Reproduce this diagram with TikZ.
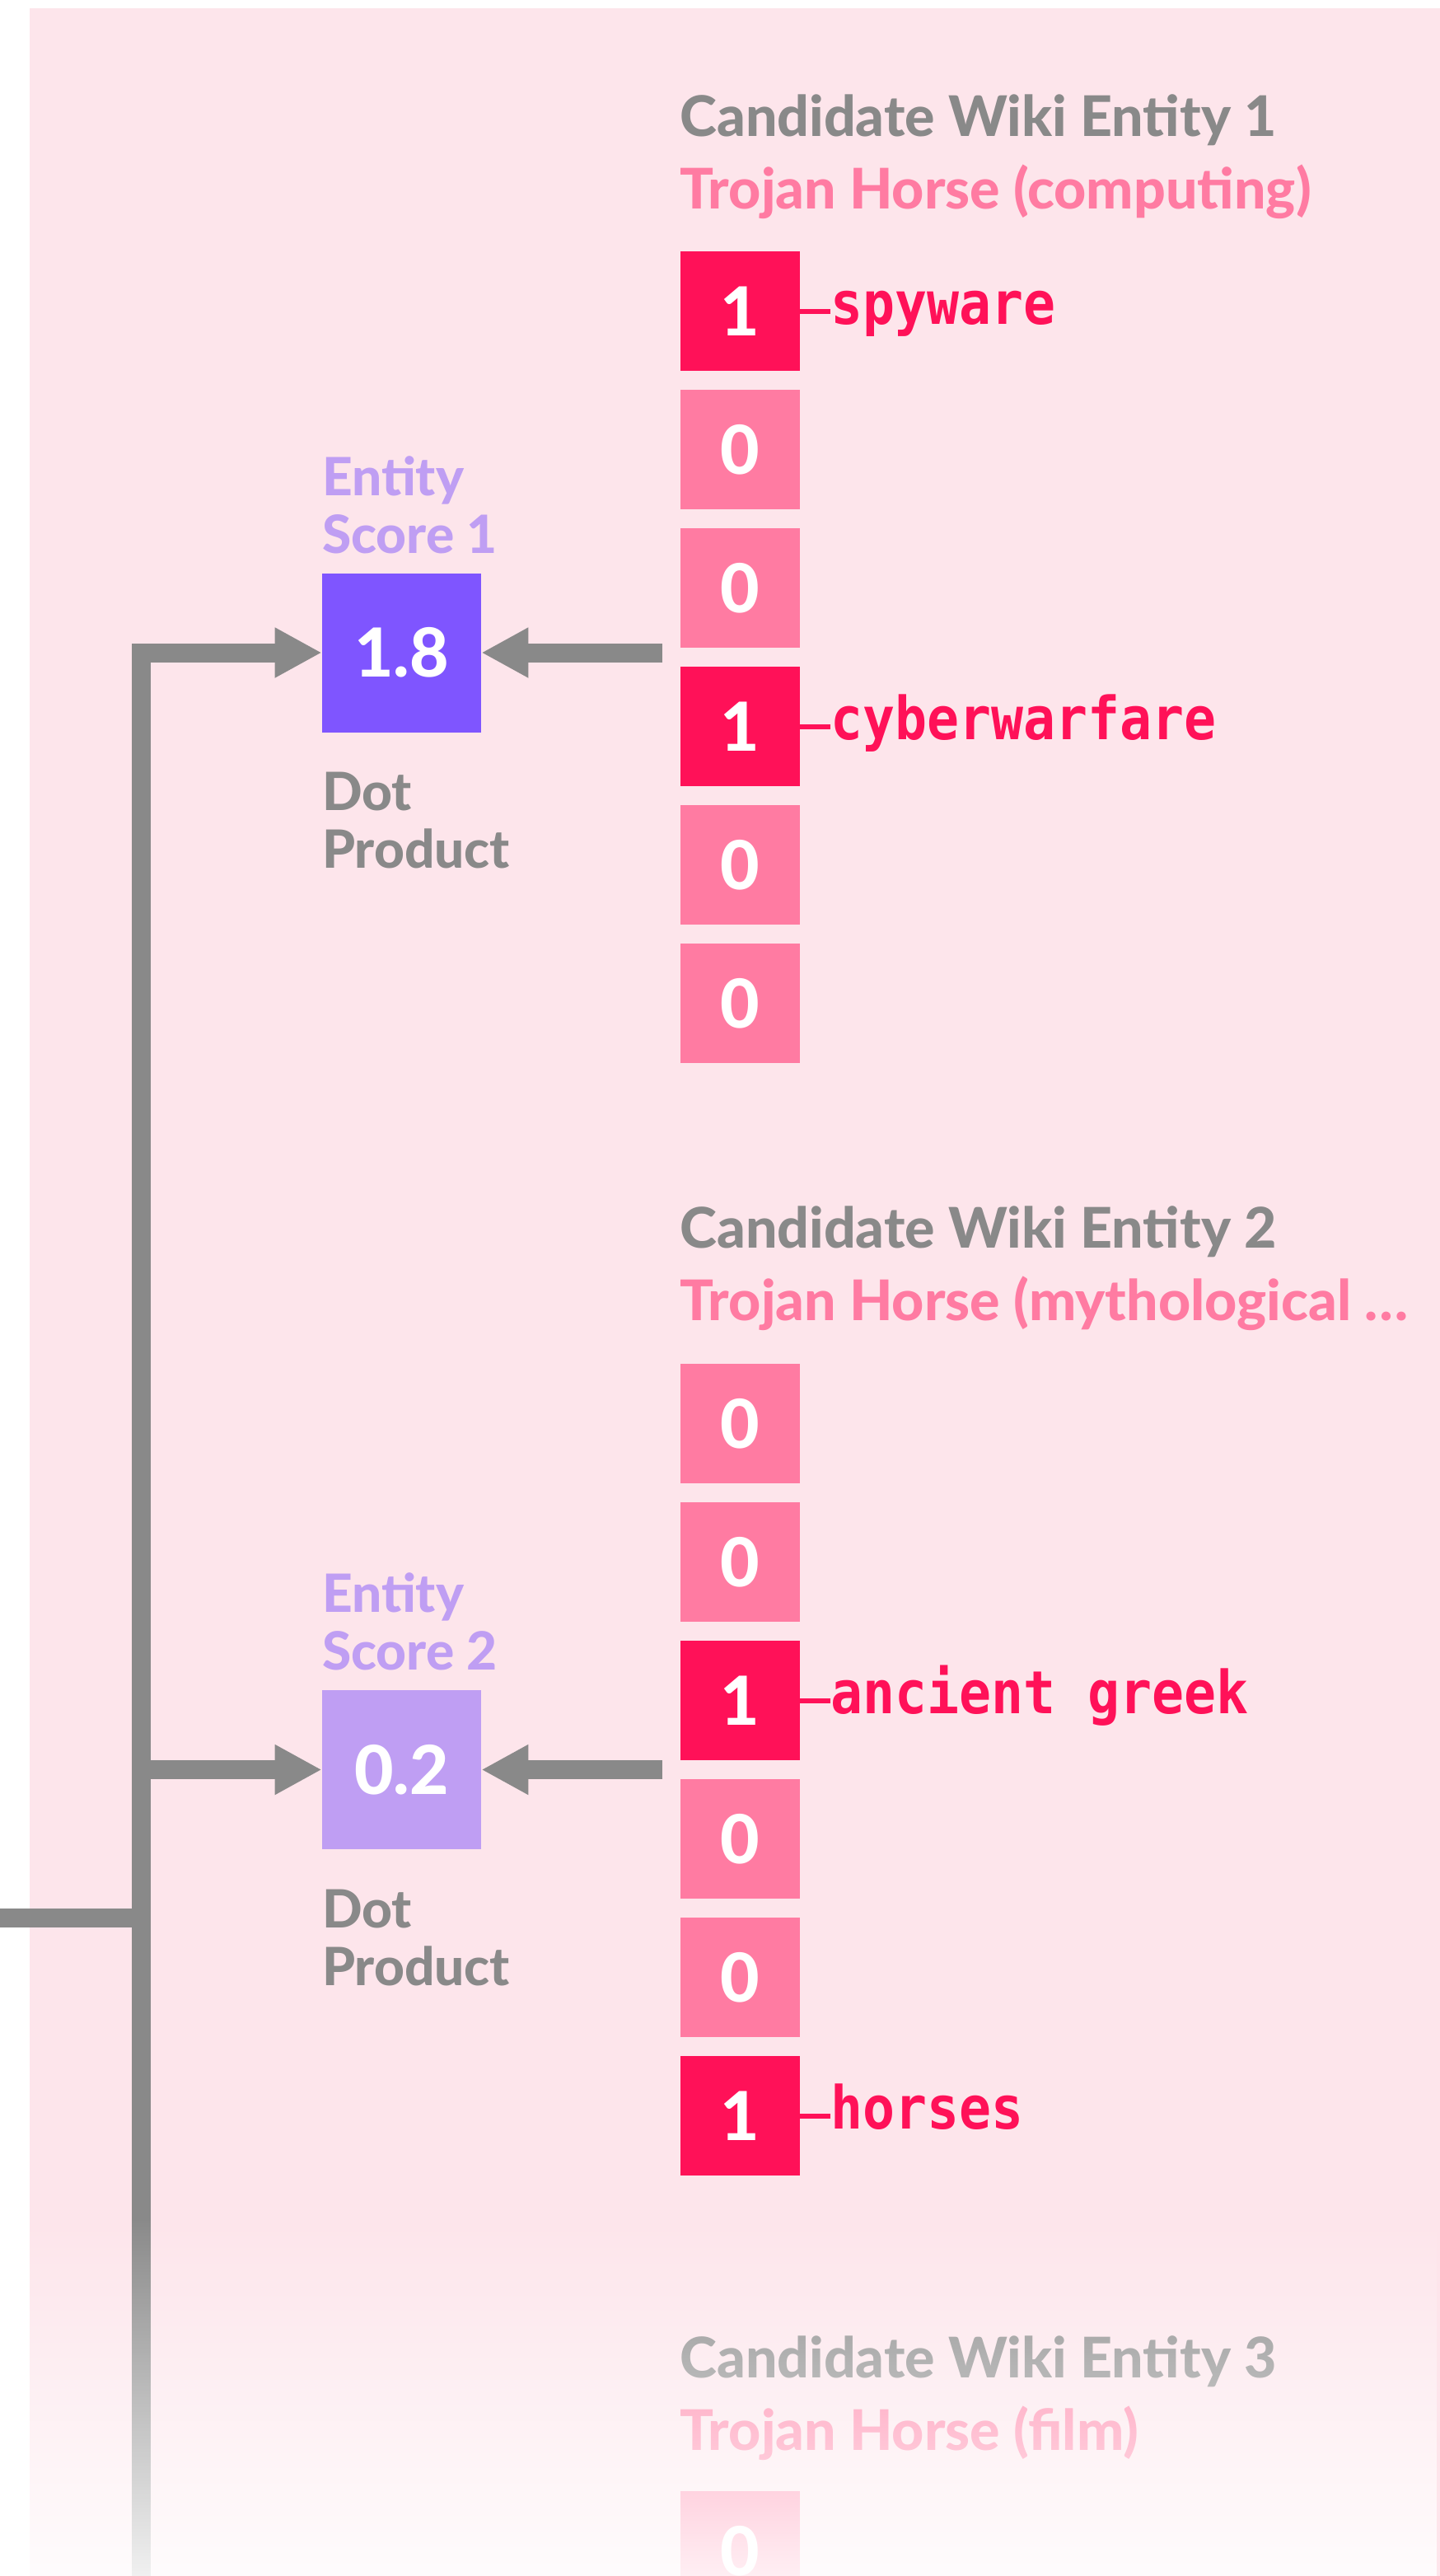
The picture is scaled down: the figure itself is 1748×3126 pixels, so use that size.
\documentclass[tikz,border=0pt]{standalone}
\usepackage{fontspec}
\setmainfont{Lato}[BoldFont={Lato Heavy}]
\newfontfamily\monofont{DejaVu Sans Mono}[FakeStretch=0.9]
\usetikzlibrary{positioning,arrows.meta,fadings}

\definecolor{bgpink}{HTML}{FDE5EB}
\definecolor{railgray}{HTML}{898989}
\definecolor{hotpink}{HTML}{FF1158}
\definecolor{softpink}{HTML}{FF7BA2}
\definecolor{deeppurple}{HTML}{7F55FF}
\definecolor{lilac}{HTML}{BF9EF3}

\tikzfading[name=fadeout, top color=transparent!100, bottom color=transparent!12]

\tikzset{
  pipe/.style={draw=railgray, line width=11.5pt},
  tip/.style={-{Triangle[length=28.5pt,width=28.5pt]}},
  cell/.style={minimum size=72.5pt, inner sep=0pt, text=white,
    font=\bfseries\fontsize{41}{41}\selectfont},
  score/.style={minimum size=96.5pt, inner sep=0pt, text=white,
    font=\bfseries\fontsize{41}{41}\selectfont},
  title/.style={anchor=base west, inner sep=0pt, text=railgray,
    font=\bfseries\fontsize{34}{36}\selectfont},
  sub/.style={title, text=softpink},
  lbl/.style={inner sep=0pt, align=left,
    font=\bfseries\fontsize{32}{35}\selectfont},
  tag/.style={inner sep=0pt, anchor=base west, text=hotpink,
    font=\monofont\bfseries\fontsize{36}{36}\selectfont},
  tick/.style={draw=hotpink, line width=3pt}
}

\begin{document}
\begin{tikzpicture}[x=0.5pt, y=-0.5pt]
  \useasboundingbox (0,0) rectangle (1748,3126);
  \clip (0,0) rectangle (1748,3126);
  \fill[bgpink] (36,10) rectangle (1748,3126);

  % candidate 1
  \node[title] (t1) at (825,165) {Candidate Wiki Entity 1};
  \node[sub] (h1) at ([yshift=-44pt]t1.base west) {Trojan Horse (computing)};
  \foreach \v/\col [count=\i] in {1/hotpink,0/softpink,0/softpink,1/hotpink,0/softpink,0/softpink}
    \node[cell, fill=\col] (a\i) at (898.5,209.5+168*\i) {\v};
  \node[tag] (spy) at ([xshift=18.5pt, yshift=-8pt]a1.east) {spyware};
  \node[tag] (cyber) at ([xshift=18.5pt, yshift=-8pt]a4.east) {cyberwarfare};
  \draw[tick] (a1.east) -- (spy.west |- a1.east);
  \draw[tick] (a4.east) -- (cyber.west |- a4.east);

  % candidate 2
  \node[title] (t2) at (825,1514) {Candidate Wiki Entity 2};
  \node[sub] (h2) at ([yshift=-44pt]t2.base west) {Trojan Horse (mythological …};
  \foreach \v/\col [count=\i] in {0/softpink,0/softpink,1/hotpink,0/softpink,0/softpink,1/hotpink}
    \node[cell, fill=\col] (b\i) at (898.5,1559.5+168*\i) {\v};
  \node[tag] (greek) at ([xshift=18.5pt, yshift=-8pt]b3.east) {ancient greek};
  \node[tag] (horse) at ([xshift=18.5pt, yshift=-8pt]b6.east) {horses};
  \draw[tick] (b3.east) -- (greek.west |- b3.east);
  \draw[tick] (b6.east) -- (horse.west |- b6.east);

  % candidate 3
  \node[title] (t3) at (825,2885) {Candidate Wiki Entity 3};
  \node[sub] (h3) at ([yshift=-44pt]t3.base west) {Trojan Horse (film)};
  \node[cell, fill=softpink] (c1) at (898.5,3095.5) {0};

  % scores
  \node[score, fill=deeppurple] (s1) at (487.5,792) {1.8};
  \node[score, fill=lilac] (s2) at (487.5,2147.5) {0.2};
  \node[lbl, text=lilac, anchor=south west] (e1) at ([yshift=11.5pt]s1.north west) {Entity\\Score 1};
  \node[lbl, text=lilac, anchor=south west] (e2) at ([yshift=11.5pt]s2.north west) {Entity\\Score 2};
  \node[lbl, text=railgray, anchor=north west] (d1) at ([yshift=-24pt]s1.south west) {Dot\\Product};
  \node[lbl, text=railgray, anchor=north west] (d2) at ([yshift=-24pt]s2.south west) {Dot\\Product};

  % arrows
  \coordinate (v1) at (804,792);
  \coordinate (v2) at (804,2147.5);
  \coordinate (rail) at (171,3126);
  \coordinate (feed) at (0,2327);
  \draw[pipe, tip] (v1) -- (s1.east);
  \draw[pipe, tip] (v2) -- (s2.east);
  \draw[pipe, tip] (rail) |- (s1.west);
  \draw[pipe, tip] (rail |- s2.west) -- (s2.west);
  \draw[pipe] (feed) -- (feed -| rail);

  % fade at the bottom
  \fill[white, path fading=fadeout] (0,2690) rectangle (1748,3126);
\end{tikzpicture}
\end{document}
